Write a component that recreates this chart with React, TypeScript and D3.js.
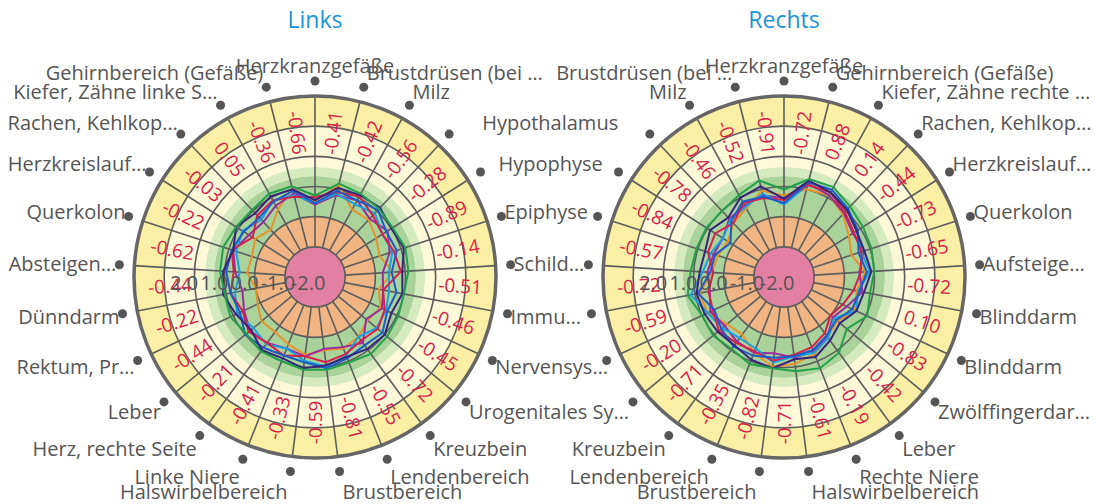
import React, { Component } from 'react';
import * as d3 from 'd3';

// categories (clockwise from the top)
const categoriesLinks = [
    'Herzkranzgefäße', 'Brustdrüsen (bei …', 'Milz', 'Hypothalamus', 'Hypophyse', 'Epiphyse',
    'Schild…', 'Immu…', 'Nervensys…', 'Urogenitales Sy…', 'Kreuzbein', 'Lendenbereich',
    'Brustbereich', 'Halswirbelbereich', 'Linke Niere', 'Herz, rechte Seite', 'Leber',
    'Rektum, Pr…', 'Dünndarm', 'Absteigen…', 'Querkolon', 'Herzkreislauf…', 'Rachen, Kehlkop…',
    'Kiefer, Zähne linke S…', 'Gehirnbereich (Gefäße)'
];
const categoriesRechts = [
    'Herzkranzgefäße', 'Gehirnbereich (Gefäße)', 'Kiefer, Zähne rechte …', 'Rachen, Kehlkop…',
    'Herzkreislauf…', 'Querkolon', 'Aufsteige…', 'Blinddarm', 'Blinddarm', 'Zwölffingerdar…',
    'Leber', 'Rechte Niere', 'Halswirbelbereich', 'Brustbereich', 'Lendenbereich', 'Kreuzbein',
    'Urogenitales Sy…', 'Nervensys…', 'Immu…', 'Schild…', 'Epiphyse', 'Hypophyse',
    'Hypothalamus', 'Milz', 'Brustdrüsen (bei …'
];
// labels that are hidden because they collide with the other pane
const hiddenLinks: number[] = [];
const hiddenRechts = [16, 17, 18, 19, 20, 21, 22];

// values printed in the outer ring
const ringLinks = [-0.41, -0.42, -0.56, -0.28, -0.89, -0.14, -0.51, -0.46, -0.45, -0.72, -0.55, -0.81,
    -0.59, -0.33, -0.41, -0.21, -0.44, -0.22, -0.44, -0.62, -0.22, -0.03, 0.05, -0.36, -0.66];
const ringRechts = [-0.72, 0.88, 0.14, -0.44, -0.73, -0.65, -0.72, 0.10, -0.83, -0.42, -0.19, -0.61,
    -0.71, -0.82, -0.35, -0.71, -0.20, -0.59, -0.72, -0.57, -0.84, -0.78, -0.46, -0.52, -0.91];

// radial axis
const yTicks = [-2, -1, 0, 1, 2];
const bandEdges = [-3, -2, -1, 0.35, 0.65, 2, 3];

// measurement series
const linksGreen = [-0.30, 0.20, 0.15, 0.10, 0.05, 0.15, 0.10, 0.00, 0.05, 0.10, 0.15, 0.05, 0.10, 0.10, 0.00, 0.05, -0.05, 0.10, 0.05, 0.15, 0.20, 0.10, 0.05, 0.15, 0.10];
const linksIndigo = [-0.45, 0.05, 0.10, 0.15, 0.00, 0.10, -0.10, -0.05, -0.20, 0.00, -0.05, -0.15, -0.05, 0.05, -0.10, 0.00, -0.25, -0.10, 0.10, 0.05, -0.15, 0.10, -0.10, 0.05, 0.00];
const linksBlue = [-0.55, -0.05, -0.10, 0.05, -0.20, -0.15, -0.45, -0.25, -0.35, -0.10, -0.20, -0.10, 0.05, -0.15, -0.20, -0.10, 0.00, -0.25, -0.15, -0.05, -0.10, -0.20, -0.30, -0.15, -0.05];
const linksRed = [-0.35, -0.10, 0.05, -0.20, -0.35, -0.25, -0.15, -0.70, -0.45, -0.30, -0.40, -0.25, -0.15, -0.35, -0.20, -0.30, -0.15, -0.35, -0.15, -0.30, -0.10, -0.55, -0.20, -0.10, -0.25];
const linksPurple = [-0.60, -0.20, -0.10, -0.35, -0.15, -0.40, -0.75, -0.70, -0.55, -0.80, -0.30, -0.50, -0.60, -0.35, -0.45, -0.30, -0.20, -0.40, -0.55, -0.35, -0.15, -0.40, -0.50, -0.30, -0.15];
const linksLightBlue = [-0.55, -0.15, -0.25, -0.10, -0.35, -0.30, -0.55, -0.50, -0.40, -0.35, -0.55, -0.20, 0.00, -0.20, -0.45, -0.25, -0.35, -0.15, -0.30, -0.50, -0.25, -0.15, -0.40, -0.10, -0.20];
const linksOrange = [-0.50, 0.15, -0.45, -0.40, -0.60, -0.75, -0.40, -0.85, -0.60, -0.75, -0.55, -0.45, -0.55, -0.40, -0.60, -0.75, -0.70, -0.90, -1.00, -0.75, -0.80, -0.65, -0.85, -0.45, 0.05];

const rechtsGreen = [-0.10, 0.35, 0.40, 0.20, 0.10, 0.05, 0.00, -0.10, 0.05, -0.30, 0.10, 0.25, 0.15, 0.05, 0.10, -0.05, 0.05, 0.00, 0.25, 0.10, 0.05, 0.05, 0.00, 0.10, 0.30];
const rechtsIndigo = [-0.40, 0.30, 0.20, 0.05, -0.15, -0.20, -0.10, -0.30, -0.35, -0.60, -0.40, -0.15, -0.25, 0.05, -0.05, -0.20, -0.15, -0.10, -0.05, -0.20, -0.25, -0.10, -0.30, 0.00, 0.10];
const rechtsBlue = [-0.55, 0.25, 0.30, 0.10, -0.10, -0.40, -0.25, -0.45, -0.50, -0.75, -0.60, -0.40, -0.35, -0.30, -0.20, -0.15, -0.30, -0.45, -0.10, -0.55, -0.60, -0.90, -0.45, -0.15, -0.25];
const rechtsRed = [-0.45, 0.15, 0.20, -0.05, -0.25, -0.30, -0.45, -0.65, -0.85, -1.00, -0.70, -0.50, -0.40, -0.20, -0.35, -0.30, -0.20, -0.40, -0.45, -0.65, -0.35, -0.30, -0.55, -0.20, -0.30];
const rechtsPurple = [-0.40, 0.20, 0.10, -0.10, -0.30, -0.20, -0.50, -0.35, -0.70, -0.90, -0.55, -0.35, -0.30, -0.45, -0.30, -0.35, -0.45, -0.30, -0.50, -0.45, -0.55, -0.60, -0.35, -0.30, -0.20];
const rechtsLightBlue = [-0.60, 0.15, 0.20, 0.05, -0.15, -0.30, -0.15, -0.50, -0.35, -0.85, -0.50, -0.30, -0.35, -0.15, -0.45, -0.50, -0.35, -0.20, 0.15, -0.30, -0.45, -0.60, -0.40, -0.35, -0.15];
const rechtsOrange = [-0.30, 0.00, 0.10, -0.15, -0.45, -0.65, -0.30, -0.55, -0.40, -0.70, -0.55, -0.25, -0.10, 0.00, -0.30, -0.65, -0.55, -0.20, -0.15, -0.60, -0.70, -0.80, -0.55, -0.40, -0.05];

const bandColors = ['#e27fa2', '#f1b583', '#a9d39b', '#d6eabf', '#fdf8d8', '#faefa4'];
const seriesColors = ['#e8922a', '#9b2c9f', '#1aa0de', '#d81e4a', '#1c5cc8', '#36237c', '#22a04a'];
const FONT = "'Open Sans', sans-serif";

class App extends Component {
    constructor(props) {
        super(props);
        this.d3Container = React.createRef();
        this.width = 1095;
        this.height = 504;
        this.R = 181;
    }

    componentDidMount() {
        const svg = d3.select(this.d3Container.current);
        svg.selectAll("*").remove();
        // a couple of left labels were pushed outwards by the layout
        this.drawPane(svg, 315, 277, 'Links', categoriesLinks, hiddenLinks, ringLinks,
            [linksOrange, linksPurple, linksLightBlue, linksRed, linksBlue, linksIndigo, linksGreen], { 3: 30, 4: 15 });
        this.drawPane(svg, 784, 277, 'Rechts', categoriesRechts, hiddenRechts, ringRechts,
            [rechtsOrange, rechtsPurple, rechtsLightBlue, rechtsRed, rechtsBlue, rechtsIndigo, rechtsGreen], {});
    }

    drawPane(svg, cx, cy, title, categories, hidden, ring, series, shift) {
        const R = this.R;
        const n = categories.length;
        const step = 2 * Math.PI / n;
        const r = d3.scaleLinear().domain([-3, 3]).range([0, R]);

        svg.append("text")
            .attr("x", cx)
            .attr("y", 28)
            .attr("text-anchor", "middle")
            .style("font-family", FONT)
            .style("font-size", "23px")
            .style("fill", "#1a96d6")
            .text(title);

        const g = svg.append("g").attr("transform", `translate(${cx},${cy})`);

        // plot bands
        const arc = d3.arc();
        for (let i = 0; i < bandEdges.length - 1; i++) {
            g.append("path")
                .attr("d", arc({ innerRadius: r(bandEdges[i]), outerRadius: r(bandEdges[i + 1]), startAngle: 0, endAngle: 2 * Math.PI }))
                .style("fill", bandColors[i]);
        }

        // grid circles
        g.selectAll(".grid")
            .data(yTicks)
            .enter().append("circle")
            .attr("r", d => r(d))
            .style("fill", "none")
            .style("stroke", "#5d5d5d")
            .style("stroke-width", 1.6);

        // spokes
        g.selectAll(".spoke")
            .data(d3.range(n))
            .enter().append("line")
            .attr("x1", i => d3.pointRadial(i * step, r(-2))[0])
            .attr("y1", i => d3.pointRadial(i * step, r(-2))[1])
            .attr("x2", i => d3.pointRadial(i * step, R)[0])
            .attr("y2", i => d3.pointRadial(i * step, R)[1])
            .style("stroke", "#5d5d5d")
            .style("stroke-width", 1.6);

        // values in the ring
        g.selectAll(".ring")
            .data(ring)
            .enter().append("text")
            .attr("transform", (d, i) => {
                const a = (i + 0.5) * step;
                const p = d3.pointRadial(a, r(1.82));
                const deg = a * 180 / Math.PI;
                const rot = deg <= 180 ? deg - 90 : deg - 270;
                return `translate(${p[0]},${p[1]}) rotate(${rot})`;
            })
            .attr("text-anchor", "middle")
            .attr("dy", "0.35em")
            .style("font-family", FONT)
            .style("font-size", "19px")
            .style("fill", "#d81e4a")
            .text(d => d.toFixed(2));

        // series
        const line = d3.lineRadial()
            .angle((d, i) => i * step)
            .radius(d => r(d))
            .curve(d3.curveLinearClosed);
        series.forEach((s, k) => {
            g.append("path")
                .attr("d", line(s))
                .style("fill", "none")
                .style("stroke", seriesColors[k])
                .style("stroke-width", 2);
        });

        // radial axis labels
        g.selectAll(".ylab")
            .data(yTicks.slice().reverse())
            .enter().append("text")
            .attr("x", d => -r(d) + 6)
            .attr("y", 13)
            .style("font-family", FONT)
            .style("font-size", "20px")
            .style("fill", "#555")
            .text(d => d.toFixed(1));

        // outer circle
        g.append("circle")
            .attr("r", R)
            .style("fill", "none")
            .style("stroke", "#666")
            .style("stroke-width", 3.5);

        // category dots and labels
        const rDot = R + 15;
        categories.forEach((c, i) => {
            const a = i * step;
            const p = d3.pointRadial(a, rDot);
            g.append("circle")
                .attr("cx", p[0])
                .attr("cy", p[1])
                .attr("r", 4.5)
                .style("fill", "#555");
            if (hidden.includes(i)) return;
            const s = Math.sin(a);
            const co = Math.cos(a);
            const anchor = Math.abs(s) < 0.01 ? "middle" : (s > 0 ? "start" : "end");
            const extra = co < 0 ? Math.pow(co, 8) * 6 : 0;
            g.append("text")
                .attr("x", p[0] + (anchor === "start" ? 3 : anchor === "end" ? -3 : 0) + (shift[i] || 0))
                .attr("y", p[1] - co * 15 + extra)
                .attr("dy", "0.35em")
                .attr("text-anchor", anchor)
                .style("font-family", FONT)
                .style("font-size", "20px")
                .style("fill", "#555")
                .text(c);
        });
    }

    render() {
        return (
            <svg width={this.width} height={this.height} ref={this.d3Container}
                style={{ position: "absolute", left: 0, top: 0, background: "#fff" }}></svg>
        );
    }
}

export default App;
